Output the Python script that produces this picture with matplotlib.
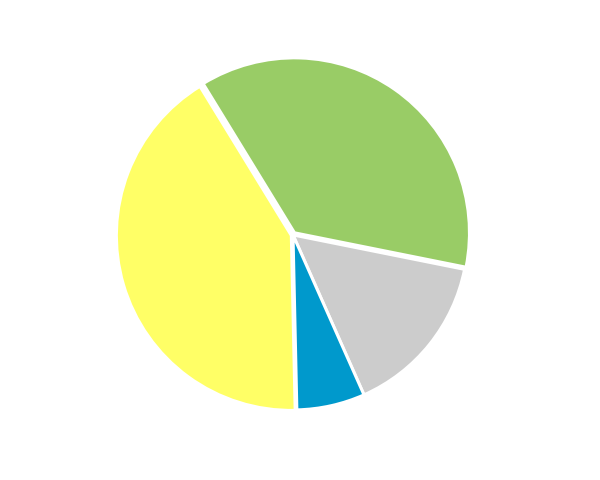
import matplotlib
matplotlib.use("Agg")
import matplotlib.pyplot as plt

labels = ["Green", "Grey", "Blue", "Yellow"]
values = [36.9, 15.2, 6.3, 41.6]
colors = ["#99CC66", "#CCCCCC", "#0099CC", "#FFFF66"]
explode = [0.015, 0.0, 0.0, 0.01]

fig = plt.figure(figsize=(6, 4.8), dpi=100)
ax = fig.add_axes([0.1967, 0.146, 0.5833, 0.729])
ax.pie(values, colors=colors, startangle=121.5, counterclock=False,
       explode=explode, radius=1.0,
       wedgeprops=dict(edgecolor="white", linewidth=2.2))
ax.set_xlim(-1.0, 1.0)
ax.set_ylim(-1.0, 1.0)
ax.set_aspect("equal")
ax.axis("off")
fig.savefig("out.png", dpi=100)
